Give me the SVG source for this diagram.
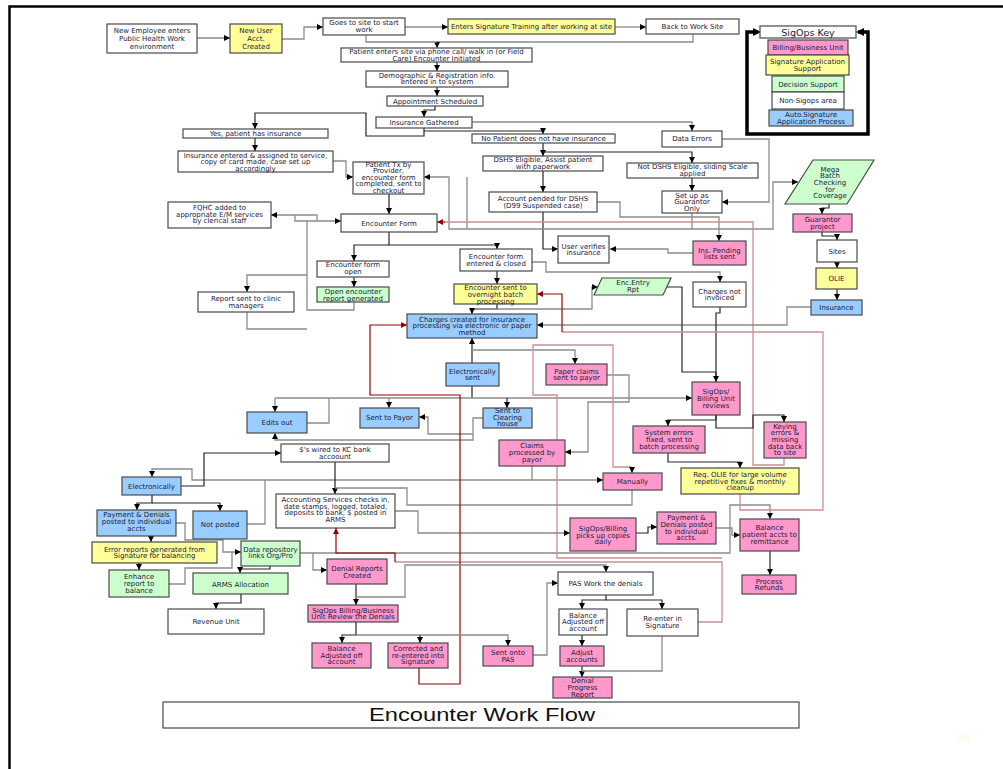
<svg xmlns="http://www.w3.org/2000/svg" width="1003" height="769" viewBox="0 0 1003 769">
<defs>
<style>
.n rect,.n polygon{stroke:#4a4a4a;stroke-width:1.2}
.w{fill:#ffffff}.y{fill:#ffff99}.g{fill:#ccffcc}.bl{fill:#99ccff}.pk{fill:#ff99cc}
text{font-family:"DejaVu Sans","Liberation Sans",Arial,sans-serif;font-size:7px;fill:#1a1a3a;text-anchor:middle}
.cg{stroke:#8c8c8c;stroke-width:1.3;fill:none;marker-end:url(#ak)}
.ck{stroke:#262626;stroke-width:1.2;fill:none;marker-end:url(#ak)}
.cr{stroke:#990000;stroke-width:1.2;fill:none;marker-end:url(#ar)}
.cp{stroke:#c89090;stroke-width:1.3;fill:none}
.nm{marker-end:none}
</style>
<marker id="ak" viewBox="0 0 8 8" refX="8" refY="4" markerWidth="6" markerHeight="6" markerUnits="userSpaceOnUse" orient="auto"><path d="M0,0L8,4L0,8z" fill="#000"/></marker>
<marker id="ar" viewBox="0 0 8 8" refX="8" refY="4" markerWidth="6" markerHeight="6" markerUnits="userSpaceOnUse" orient="auto"><path d="M0,0L8,4L0,8z" fill="#990000"/></marker>
</defs>
<rect width="1003" height="769" fill="#ffffff"/>
<path d="M9.5,769V6.5H1003" stroke="#000" stroke-width="2.5" fill="none"/>

<g id="connectors">
<path class="cg" d="M197,38H230"/>
<path class="cg" d="M282,39H304V27H323"/>
<path class="cg" d="M405,27H448"/>
<path class="cg" d="M615,27H646"/>
<path class="cg" d="M693,34V42H437V48"/>
<path class="cg nm" d="M366,35V42H437"/>
<path class="ck" d="M437,62V71"/>
<path class="ck" d="M437,87V96"/>
<path class="ck" d="M435,106V110H424V117"/>
<path class="ck" d="M424,128V136H366V113H255V129"/>
<path class="ck" d="M424,131H543V134"/>
<path class="cg" d="M472,122H692V131"/>
<path class="ck" d="M255,138V151"/>
<path class="ck" d="M543,143V156"/>
<path class="ck" d="M543,152H692V163"/>
<path class="cg" d="M333,161H346V177H353"/>
<path class="ck" d="M543,171V192"/>
<path class="ck" d="M692,178V191"/>
<path class="cg" d="M722,139H769V202H722"/>
<path class="ck" d="M389,194V214"/>
<path class="ck" d="M543,212V249H558"/>
<path class="cg" d="M597,202H620V217H719V241"/>
<path class="cg" d="M692,213V229H773V182H798"/>
<path class="cg" d="M692,229H449V177H424"/>
<path class="cg nm" d="M467,177V229"/>
<path class="cp" d="M784,458V465H753V222H445"/>
<path class="cr" d="M445,222H437"/>
<path class="cg" d="M693,253H668V249H610"/>
<path class="ck" d="M829,204V208H822V214"/>
<path class="ck" d="M822,232V236H837V240"/>
<path class="ck" d="M837,262V268"/>
<path class="ck" d="M837,289V300"/>
<path class="cg" d="M811,307H787V325H537"/>
<path class="ck" d="M389,232V245H497V249"/>
<path class="ck" d="M389,245H354V261"/>
<path class="ck" d="M354,277V287"/>
<path class="cg" d="M354,302V310H307V221H341"/>
<path class="cg" d="M307,275H247V292"/>
<path class="cg nm" d="M247,312V329H307"/>
<path class="cg" d="M317,221V215H271"/>
<path class="cg nm" d="M295,215V221H307"/>
<path class="ck" d="M497,271V284"/>
<path class="cg" d="M532,262H546V272H720V282"/>
<path class="ck" d="M497,304V309H472V314"/>
<path class="cg" d="M497,309H592V287H598"/>
<path class="ck" d="M667,287H682V372H716V382"/>
<path class="ck nm" d="M720,307V313H716V376"/>
<path class="ck" d="M472,363V338"/>
<path class="cg" d="M472,350H575V364"/>
<path class="ck nm" d="M472,386V398"/>
<path class="cg" d="M275,398H692"/>
<path class="cg" d="M275,398V412"/>
<path class="cg" d="M389,398V408"/>
<path class="ck" d="M507,398V408"/>
<path class="cg nm" d="M307,423H329V398"/>
<path class="cg" d="M483,418H473V434H428V417H419"/>
<path class="cg" d="M473,434V440H275V433"/>
<path class="cg" d="M607,375H629V402H588V452H565"/>
<path class="cg" d="M532,466V480H603"/>
<path class="cg" d="M532,480H192V469H152V477"/>
<path class="ck" d="M181,486H204V453H281"/>
<path class="ck" d="M335,462V494"/>
<path class="cg nm" d="M247,524H265V480"/>
<path class="ck" d="M152,495V503H137V510"/>
<path class="ck" d="M152,503H220V511"/>
<path class="ck" d="M151,536V542"/>
<path class="cg" d="M176,523H185V540H223V552H241"/>
<path class="ck" d="M139,563V570"/>
<path class="cg nm" d="M169,584H185V568H232V552"/>
<path class="ck" d="M270,566V569H240V573"/>
<path class="ck" d="M241,594V603H216V609"/>
<path class="cg" d="M300,553H313V570H327"/>
<path class="cg" d="M313,553H730V505H770V519"/>
<path class="cp" d="M698,622H722V562H395"/>
<path class="cr" d="M395,562V553H336V528"/>
<path class="cp" d="M722,558H557V395H533V345H613V467H632"/>
<path class="cg" d="M632,467V473"/>
<path class="cg nm" d="M632,490V505H407V488H335"/>
<path class="cg" d="M395,511H418V533H570"/>
<path class="ck" d="M636,533H648V527H657"/>
<path class="cg" d="M716,528H732V535H740"/>
<path class="ck" d="M770,551V575"/>
<path class="ck" d="M716,415V420H668V426"/>
<path class="ck" d="M716,415V428H753V415H784V422"/>
<path class="ck" d="M668,453V462H740V468"/>
<path class="cp" d="M740,494V510H823V332H562"/>
<path class="cr" d="M562,332V294H537"/>
<path class="cr" d="M419,668V684H460V395H370V325H407"/>
<path class="ck" d="M356,584V605"/>
<path class="cg" d="M356,597H405V565H606V572"/>
<path class="ck" d="M356,622V635H342V643"/>
<path class="cg" d="M356,635H508V646"/>
<path class="ck" d="M420,635V643"/>
<path class="cg" d="M533,655H547V583H558"/>
<path class="ck" d="M606,595V600H582V609"/>
<path class="ck" d="M606,600H662V609"/>
<path class="ck" d="M582,635V646"/>
<path class="ck" d="M582,666V677"/>
<path class="cg nm" d="M662,636V671H582"/>
</g>

<g id="n_newemp" class="n"><rect class="w" x="107" y="24" width="90" height="29"/><text x="152" y="33.1">New Employee enters<tspan x="152" dy="8">Public Health Work</tspan><tspan x="152" dy="8">environment</tspan></text></g>
<g id="n_newuser" class="n"><rect class="y" x="230" y="24" width="52" height="29"/><text x="256" y="33.1">New User<tspan x="256" dy="8">Acct.</tspan><tspan x="256" dy="8">Created</tspan></text></g>
<g id="n_goes" class="n"><rect class="w" x="323" y="18" width="82" height="17"/><text x="364" y="25.3">Goes to site to start<tspan x="364" dy="7">work</tspan></text></g>
<g id="n_training" class="n"><rect class="y" x="448" y="19" width="167" height="15"/><text x="531.5" y="29">Enters Signature Training after working at site</text></g>
<g id="n_back" class="n"><rect class="w" x="646" y="19" width="93" height="15"/><text x="692.5" y="29">Back to Work Site</text></g>
<g id="n_patient" class="n"><rect class="w" x="341" y="48" width="191" height="14"/><text x="436.5" y="54.3">Patient enters site via phone call/ walk in (or Field<tspan x="436.5" dy="6.7">Care) Encounter Initiated</tspan></text></g>
<g id="n_demo" class="n"><rect class="w" x="366" y="71" width="142" height="16"/><text x="437" y="77.6">Demographic &amp; Registration  info.<tspan x="437" dy="6.7">entered in to system</tspan></text></g>
<g id="n_appt" class="n"><rect class="w" x="387" y="96" width="96" height="10"/><text x="435" y="103.6">Appointment Scheduled</text></g>
<g id="n_insg" class="n"><rect class="w" x="376" y="117" width="96" height="11"/><text x="424" y="125">Insurance Gathered</text></g>
<g id="n_yes" class="n"><rect class="w" x="183" y="129" width="145" height="9"/><text x="255.5" y="136">Yes, patient has insurance</text></g>
<g id="n_nopat" class="n"><rect class="w" x="472" y="134" width="143" height="9"/><text x="543.5" y="141">No Patient does not have insurance</text></g>
<g id="n_dataerr" class="n"><rect class="w" x="662" y="131" width="60" height="16"/><text x="692" y="140.5">Data Errors</text></g>
<g id="n_insent" class="n"><rect class="w" x="178" y="151" width="155" height="21"/><text x="255.5" y="157.5">Insurance entered &amp; assigned to service,<tspan x="255.5" dy="6.7">copy of card made, case set up</tspan><tspan x="255.5" dy="6.7">accordingly</tspan></text></g>
<g id="n_dshs" class="n"><rect class="w" x="483" y="156" width="120" height="15"/><text x="543" y="161.8">DSHS Eligible, Assist patient<tspan x="543" dy="6.7">with paperwork</tspan></text></g>
<g id="n_notdshs" class="n"><rect class="w" x="627" y="163" width="131" height="15"/><text x="692.5" y="169.2">Not DSHS Eligible, sliding Scale<tspan x="692.5" dy="6.7">applied</tspan></text></g>
<g id="n_ptx" class="n"><rect class="w" x="353" y="162" width="71" height="32"/><text x="388.5" y="166.5">Patient Tx by<tspan x="388.5" dy="6.5">Provider,</tspan><tspan x="388.5" dy="6.5">encounter form</tspan><tspan x="388.5" dy="6.5">completed, sent to</tspan><tspan x="388.5" dy="6.5">checkout</tspan></text></g>
<g id="n_pended" class="n"><rect class="w" x="489" y="192" width="108" height="20"/><text x="543" y="200.8">Account pended for DSHS<tspan x="543" dy="6.7">(D99 Suspended case)</tspan></text></g>
<g id="n_guar" class="n"><rect class="w" x="662" y="191" width="60" height="22"/><text x="692" y="197.5">Set up as<tspan x="692" dy="6.7">Guarantor</tspan><tspan x="692" dy="6.7">Only</tspan></text></g>
<g id="n_fqhc" class="n"><rect class="w" x="168" y="202" width="103" height="26"/><text x="219.5" y="209.8">FQHC added to<tspan x="219.5" dy="6.7">appropriate E/M services</tspan><tspan x="219.5" dy="6.7">by clerical staff</tspan></text></g>
<g id="n_encform" class="n"><rect class="w" x="341" y="214" width="96" height="18"/><text x="389" y="225.5">Encounter Form</text></g>
<g id="n_mega" class="n"><polygon class="g" points="813,160 874,160 847,204 785,204"/><text x="830" y="171.5">Mega<tspan x="830" dy="6.67">Batch</tspan><tspan x="830" dy="6.67">Checking</tspan><tspan x="830" dy="6.67">for</tspan><tspan x="830" dy="6.67">Coverage</tspan></text></g>
<g id="n_guarproj" class="n"><rect class="pk" x="793" y="214" width="59" height="18"/><text x="822.5" y="221.8">Guarantor<tspan x="822.5" dy="6.7">project</tspan></text></g>
<g id="n_sites" class="n"><rect class="w" x="817" y="240" width="40" height="22"/><text x="837" y="253.5">Sites</text></g>
<g id="n_olie" class="n"><rect class="y" x="816" y="268" width="41" height="21"/><text x="836.5" y="281">OLIE</text></g>
<g id="n_insurance" class="n"><rect class="bl" x="811" y="300" width="51" height="15"/><text x="836.5" y="310">Insurance</text></g>
<g id="n_userver" class="n"><rect class="w" x="558" y="236" width="51" height="27"/><text x="583.5" y="248.5">User verifies<tspan x="583.5" dy="6.7">insurance</tspan></text></g>
<g id="n_inspend" class="n"><rect class="pk" x="693" y="241" width="53" height="24"/><text x="719.5" y="252.5">Ins. Pending<tspan x="719.5" dy="6.7">lists sent</tspan></text></g>
<g id="n_encopen" class="n"><rect class="w" x="317" y="261" width="72" height="16"/><text x="353" y="267.2">Encounter form<tspan x="353" dy="7">open</tspan></text></g>
<g id="n_encclosed" class="n"><rect class="w" x="460" y="249" width="72" height="22"/><text x="496" y="258.5">Encounter form<tspan x="496" dy="7">entered &amp; closed</tspan></text></g>
<g id="n_encentry" class="n"><polygon class="g" points="602,278 671,278 663,295 594,295"/><text x="633" y="285.2">Enc.Entry<tspan x="633" dy="6.7">Rpt</tspan></text></g>
<g id="n_chnotinv" class="n"><rect class="w" x="693" y="282" width="53" height="25"/><text x="719.5" y="293.5">Charges not<tspan x="719.5" dy="6.7">invoiced</tspan></text></g>
<g id="n_openrep" class="n"><rect class="g" x="317" y="287" width="72" height="15"/><text x="353" y="294.2">Open encounter<tspan x="353" dy="6.7">report generated</tspan></text></g>
<g id="n_report" class="n"><rect class="w" x="198" y="292" width="96" height="20"/><text x="246" y="300.8">Report sent to clinic<tspan x="246" dy="6.7">managers</tspan></text></g>
<g id="n_overnight" class="n"><rect class="y" x="454" y="284" width="83" height="20"/><text x="495.5" y="290.2">Encounter sent to<tspan x="495.5" dy="6.7">overnight batch</tspan><tspan x="495.5" dy="6.7">processing</tspan></text></g>
<g id="n_charges" class="n"><rect class="bl" x="407" y="314" width="130" height="24"/><text x="472" y="321.5">Charges created for insurance<tspan x="472" dy="6.7">processing via electronic or paper</tspan><tspan x="472" dy="6.7">method</tspan></text></g>
<g id="n_elecsent" class="n"><rect class="bl" x="446" y="363" width="53" height="23"/><text x="472.5" y="373.5">Electronically<tspan x="472.5" dy="6.4">sent</tspan></text></g>
<g id="n_paper" class="n"><rect class="pk" x="546" y="364" width="61" height="21"/><text x="576.5" y="373.5">Paper claims<tspan x="576.5" dy="6.4">sent to payor</tspan></text></g>
<g id="n_sigrev" class="n"><rect class="pk" x="692" y="382" width="48" height="33"/><text x="716" y="394.2">SigOps/<tspan x="716" dy="6.7">Billing Unit</tspan><tspan x="716" dy="6.7">reviews</tspan></text></g>
<g id="n_edits" class="n"><rect class="bl" x="247" y="412" width="60" height="21"/><text x="277" y="425">Edits out</text></g>
<g id="n_sentpayor" class="n"><rect class="bl" x="360" y="408" width="59" height="20"/><text x="389.5" y="419.8">Sent to Payor</text></g>
<g id="n_clearing" class="n"><rect class="bl" x="483" y="408" width="49" height="20"/><text x="507.5" y="413.2">Sent to<tspan x="507.5" dy="6.6">Clearing</tspan><tspan x="507.5" dy="6.6">house</tspan></text></g>
<g id="n_keying" class="n"><rect class="pk" x="764" y="422" width="42" height="36"/><text x="785" y="428.5">Keying<tspan x="785" dy="6.67">errors &amp;</tspan><tspan x="785" dy="6.67">missing</tspan><tspan x="785" dy="6.67">data back</tspan><tspan x="785" dy="6.67">to site</tspan></text></g>
<g id="n_syserr" class="n"><rect class="pk" x="633" y="426" width="72" height="27"/><text x="669" y="435.2">System errors<tspan x="669" dy="6.7">fixed, sent to</tspan><tspan x="669" dy="6.7">batch processing</tspan></text></g>
<g id="n_claims" class="n"><rect class="pk" x="499" y="440" width="66" height="26"/><text x="532" y="448.2">Claims<tspan x="532" dy="6.7">processed by</tspan><tspan x="532" dy="6.7">payor</tspan></text></g>
<g id="n_wired" class="n"><rect class="w" x="281" y="444" width="108" height="18"/><text x="335" y="451.8">$'s wired to KC bank<tspan x="335" dy="6.7">accoount</tspan></text></g>
<g id="n_req" class="n"><rect class="y" x="681" y="468" width="118" height="26"/><text x="740" y="476.8">Req. OLIE for large volume<tspan x="740" dy="6.7">repetitive fixes &amp; monthly</tspan><tspan x="740" dy="6.7">cleanup</tspan></text></g>
<g id="n_manual" class="n"><rect class="pk" x="603" y="473" width="59" height="17"/><text x="632.5" y="484">Manually</text></g>
<g id="n_elec" class="n"><rect class="bl" x="122" y="477" width="59" height="18"/><text x="151.5" y="488.5">Electronically</text></g>
<g id="n_acct" class="n"><rect class="w" x="276" y="494" width="119" height="34"/><text x="335.5" y="501.8">Accounting Services checks in,<tspan x="335.5" dy="6.7">date stamps, logged, totaled,</tspan><tspan x="335.5" dy="6.7">deposits to bank, $ posted in</tspan><tspan x="335.5" dy="6.7">ARMS</tspan></text></g>
<g id="n_paydl" class="n"><rect class="bl" x="97" y="510" width="79" height="26"/><text x="136.5" y="516.8">Payment &amp; Denials<tspan x="136.5" dy="7">posted to individual</tspan><tspan x="136.5" dy="7">accts</tspan></text></g>
<g id="n_notposted" class="n"><rect class="bl" x="193" y="511" width="54" height="28"/><text x="220" y="527">Not posted</text></g>
<g id="n_pickup" class="n"><rect class="pk" x="570" y="518" width="66" height="33"/><text x="603" y="530.8">SigOps/Billing<tspan x="603" dy="6.7">picks up copies</tspan><tspan x="603" dy="6.7">daily</tspan></text></g>
<g id="n_paypink" class="n"><rect class="pk" x="657" y="512" width="59" height="32"/><text x="686.5" y="520.2">Payment &amp;<tspan x="686.5" dy="6.67">Denials posted</tspan><tspan x="686.5" dy="6.67">to individual</tspan><tspan x="686.5" dy="6.67">accts.</tspan></text></g>
<g id="n_balpat" class="n"><rect class="pk" x="740" y="519" width="59" height="32"/><text x="769.5" y="530.2">Balance<tspan x="769.5" dy="6.7">patient accts to</tspan><tspan x="769.5" dy="6.7">remittance</tspan></text></g>
<g id="n_errrep" class="n"><rect class="y" x="92" y="542" width="125" height="21"/><text x="154.5" y="551.5">Error reports generated from<tspan x="154.5" dy="6.7">Signature for balancing</tspan></text></g>
<g id="n_datarep" class="n"><rect class="g" x="241" y="541" width="59" height="25"/><text x="270.5" y="551.5">Data repository<tspan x="270.5" dy="6.7">links Org/Pro</tspan></text></g>
<g id="n_denialrep" class="n"><rect class="pk" x="327" y="559" width="60" height="25"/><text x="357" y="570.8">Denial Reports<tspan x="357" dy="6.7">Created</tspan></text></g>
<g id="n_enhance" class="n"><rect class="g" x="109" y="570" width="60" height="27"/><text x="139" y="579.2">Enhance<tspan x="139" dy="6.7">report to</tspan><tspan x="139" dy="6.7">balance</tspan></text></g>
<g id="n_arms" class="n"><rect class="g" x="193" y="573" width="95" height="21"/><text x="240.5" y="586.5">ARMS Allocation</text></g>
<g id="n_pas" class="n"><rect class="w" x="558" y="572" width="95" height="23"/><text x="605.5" y="586">PAS Work the denials</text></g>
<g id="n_refunds" class="n"><rect class="pk" x="742" y="575" width="54" height="19"/><text x="769" y="583.5">Process<tspan x="769" dy="6.7">Refunds</tspan></text></g>
<g id="n_review" class="n"><rect class="pk" x="308" y="605" width="90" height="17"/><text x="353" y="612.5">SigOps Billing/Business<tspan x="353" dy="6.7">Unit Review the Denials</tspan></text></g>
<g id="n_revenue" class="n"><rect class="w" x="168" y="609" width="96" height="25"/><text x="216" y="624">Revenue Unit</text></g>
<g id="n_baladjw" class="n"><rect class="w" x="559" y="609" width="48" height="26"/><text x="583" y="617.5">Balance<tspan x="583" dy="6.7">Adjusted off</tspan><tspan x="583" dy="6.7">account</tspan></text></g>
<g id="n_reenter" class="n"><rect class="w" x="627" y="609" width="71" height="27"/><text x="662.5" y="620.8">Re-enter in<tspan x="662.5" dy="7.4">Signature</tspan></text></g>
<g id="n_baladjp" class="n"><rect class="pk" x="312" y="643" width="59" height="25"/><text x="341.5" y="650.8">Balance<tspan x="341.5" dy="6.7">Adjusted off</tspan><tspan x="341.5" dy="6.7">account</tspan></text></g>
<g id="n_corrected" class="n"><rect class="pk" x="388" y="643" width="60" height="25"/><text x="418" y="651">Corrected and<tspan x="418" dy="6.5">re-entered into</tspan><tspan x="418" dy="6.7">Signature</tspan></text></g>
<g id="n_sentpas" class="n"><rect class="pk" x="483" y="646" width="50" height="20"/><text x="508" y="654.8">Sent onto<tspan x="508" dy="6.7">PAS</tspan></text></g>
<g id="n_adjust" class="n"><rect class="pk" x="560" y="646" width="44" height="20"/><text x="582" y="654.8">Adjust<tspan x="582" dy="6.7">accounts</tspan></text></g>
<g id="n_denprog" class="n"><rect class="pk" x="553" y="677" width="59" height="21"/><text x="582.5" y="683.2">Denial<tspan x="582.5" dy="6.7">Progress</tspan><tspan x="582.5" dy="6.7">Report</tspan></text></g>
<g id="n_title" class="n"><rect class="w" x="163" y="702" width="636" height="26"/><text x="482" y="721" textLength="226" lengthAdjust="spacingAndGlyphs" style="font-family:'Liberation Sans',Arial,sans-serif;font-size:18.5px;fill:#111">Encounter Work Flow</text></g>

<g id="key">
<path d="M758,32H747V134H868V32H858" stroke="#000" stroke-width="3.5" fill="none"/>
<path d="M753,28L761,32L753,36z" fill="#000"/>
<path d="M864,28L856,32L864,36z" fill="#000"/>
<g id="k_title" class="n"><rect class="w" x="760" y="26" width="96" height="12"/><text x="808" y="35.6" style="font-size:9.5px">SigOps Key</text></g>
<g id="k_billing" class="n"><rect class="pk" x="768" y="40" width="80" height="15"/><text x="808" y="50">Billing/Business Unit</text></g>
<g id="k_sas" class="n"><rect class="y" x="766" y="55" width="83" height="20"/><text x="807.5" y="64.2">Signature Application<tspan x="807.5" dy="6.7">Support</tspan></text></g>
<g id="k_ds" class="n"><rect class="g" x="772" y="76" width="72" height="16"/><text x="808" y="86.5">Decision Support</text></g>
<g id="k_non" class="n"><rect class="w" x="772" y="92" width="72" height="17"/><text x="808" y="103">Non-Sigops area</text></g>
<g id="k_auto" class="n"><rect class="bl" x="769" y="110" width="84" height="16"/><text x="811" y="116.8">Auto.Signature<tspan x="811" dy="6.7">Application Process</tspan></text></g>
</g>
<text x="963" y="742" style="font-size:12px;fill:#fffbe0">34</text>
</svg>
